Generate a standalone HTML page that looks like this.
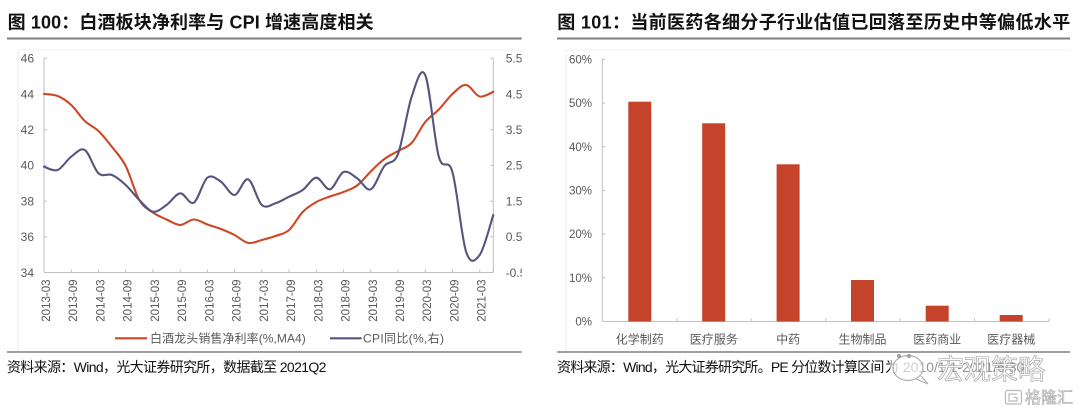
<!DOCTYPE html>
<html><head><meta charset="utf-8">
<style>
html,body{margin:0;padding:0;background:#fff;}
svg{display:block;}
text{font-family:"Liberation Sans","Noto Sans CJK SC",sans-serif;}
.tk{font-size:12px;fill:#595959;}
.tk2{font-size:11.5px;fill:#595959;}
.ttl{font-size:18px;font-weight:bold;fill:#111;}
.src{font-size:14px;fill:#111;}
</style></head>
<body>
<svg width="1080" height="416" viewBox="0 0 1080 416" xmlns="http://www.w3.org/2000/svg">
<defs>
<clipPath id="clipL"><rect x="0" y="0" width="521.7" height="416"/></clipPath>
</defs>
<rect width="1080" height="416" fill="#fff"/>

<!-- ============ LEFT PANEL ============ -->
<text class="ttl" x="7.6" y="28.5" textLength="366" lengthAdjust="spacing">图 100：白酒板块净利率与 CPI 增速高度相关</text>
<line x1="7" y1="38.5" x2="521.7" y2="38.5" stroke="#7f7f7f" stroke-width="2"/>
<line x1="18" y1="50" x2="521.7" y2="50" stroke="#f2f2f2" stroke-width="1"/>
<line x1="18" y1="50" x2="18" y2="352" stroke="#ececec" stroke-width="1"/>

<g stroke="#bfbfbf" stroke-width="1" fill="none">
  <line x1="44" y1="58.3" x2="44" y2="272.5"/>
  <line x1="493.3" y1="58.3" x2="493.3" y2="272.5"/>
  <line x1="44" y1="272.5" x2="493.3" y2="272.5"/>
  <path d="M44,58.3h3M44,94h3M44,129.7h3M44,165.4h3M44,201.1h3M44,236.8h3"/>
  <path d="M493.3,58.3h-3M493.3,94h-3M493.3,129.7h-3M493.3,165.4h-3M493.3,201.1h-3M493.3,236.8h-3"/>
  <path d="M44,272.5v-3M71.2,272.5v-3M98.5,272.5v-3M125.7,272.5v-3M152.9,272.5v-3M180.2,272.5v-3M207.4,272.5v-3M234.6,272.5v-3M261.8,272.5v-3M289.1,272.5v-3M316.3,272.5v-3M343.5,272.5v-3M370.8,272.5v-3M398,272.5v-3M425.2,272.5v-3M452.5,272.5v-3M479.7,272.5v-3M493.3,272.5v-3"/>
</g>

<g class="tk" text-anchor="end">
  <text x="34" y="62.6">46</text>
  <text x="34" y="98.3">44</text>
  <text x="34" y="134">42</text>
  <text x="34" y="169.7">40</text>
  <text x="34" y="205.4">38</text>
  <text x="34" y="241.1">36</text>
  <text x="34" y="276.8">34</text>
</g>
<g class="tk" clip-path="url(#clipL)">
  <text x="505.7" y="62.6">5.5</text>
  <text x="505.7" y="98.3">4.5</text>
  <text x="505.7" y="134">3.5</text>
  <text x="505.7" y="169.7">2.5</text>
  <text x="505.7" y="205.4">1.5</text>
  <text x="505.7" y="241.1">0.5</text>
  <text x="505.7" y="276.8">-0.5</text>
</g>

<g class="tk2" text-anchor="end" dominant-baseline="central">
  <text transform="translate(47,279.5) rotate(-90)">2013-03</text>
  <text transform="translate(74.2,279.5) rotate(-90)">2013-09</text>
  <text transform="translate(101.5,279.5) rotate(-90)">2014-03</text>
  <text transform="translate(128.7,279.5) rotate(-90)">2014-09</text>
  <text transform="translate(155.9,279.5) rotate(-90)">2015-03</text>
  <text transform="translate(183.2,279.5) rotate(-90)">2015-09</text>
  <text transform="translate(210.4,279.5) rotate(-90)">2016-03</text>
  <text transform="translate(237.6,279.5) rotate(-90)">2016-09</text>
  <text transform="translate(264.8,279.5) rotate(-90)">2017-03</text>
  <text transform="translate(292.1,279.5) rotate(-90)">2017-09</text>
  <text transform="translate(319.3,279.5) rotate(-90)">2018-03</text>
  <text transform="translate(346.5,279.5) rotate(-90)">2018-09</text>
  <text transform="translate(373.8,279.5) rotate(-90)">2019-03</text>
  <text transform="translate(401,279.5) rotate(-90)">2019-09</text>
  <text transform="translate(428.2,279.5) rotate(-90)">2020-03</text>
  <text transform="translate(455.5,279.5) rotate(-90)">2020-09</text>
  <text transform="translate(482.7,279.5) rotate(-90)">2021-03</text>
</g>

<path id="redLine" fill="none" stroke="#CD4727" stroke-width="2.1" stroke-linejoin="round" stroke-linecap="round" d=""/>
<path id="blueLine" fill="none" stroke="#55557F" stroke-width="2.1" stroke-linejoin="round" stroke-linecap="round" d=""/>

<line x1="115" y1="338.3" x2="147" y2="338.3" stroke="#CD4727" stroke-width="2.2"/>
<text class="tk" x="150" y="342.6" textLength="155.8" lengthAdjust="spacing">白酒龙头销售净利率(%,MA4)</text>
<line x1="330" y1="338.3" x2="361.6" y2="338.3" stroke="#55557F" stroke-width="2.2"/>
<text class="tk" x="363" y="342.6" textLength="81" lengthAdjust="spacing">CPI同比(%,右)</text>

<line x1="7" y1="352" x2="521.7" y2="352" stroke="#404040" stroke-width="1"/>
<text class="src" x="6.9" y="372" textLength="319.5" lengthAdjust="spacing">资料来源：Wind，光大证券研究所，数据截至 2021Q2</text>

<!-- ============ RIGHT PANEL ============ -->
<text class="ttl" x="557.2" y="28.5" textLength="513" lengthAdjust="spacing">图 101：当前医药各细分子行业估值已回落至历史中等偏低水平</text>
<line x1="557" y1="38.5" x2="1070" y2="38.5" stroke="#7f7f7f" stroke-width="2"/>
<line x1="566" y1="50" x2="1070" y2="50" stroke="#f2f2f2" stroke-width="1"/>
<line x1="566" y1="50" x2="566" y2="352" stroke="#ececec" stroke-width="1"/>

<g stroke="#bfbfbf" stroke-width="1" fill="none">
  <line x1="602.3" y1="59.3" x2="602.3" y2="321.5"/>
  <line x1="602.3" y1="321.5" x2="1049" y2="321.5"/>
  <path d="M602.3,59.3h3M602.3,103h3M602.3,146.7h3M602.3,190.4h3M602.3,234.1h3M602.3,277.8h3"/>
  <path d="M676.8,321.5v-3M751.2,321.5v-3M825.7,321.5v-3M900.1,321.5v-3M974.6,321.5v-3M1049,321.5v-3"/>
</g>

<g class="tk2" text-anchor="end">
  <text x="592" y="63.4">60%</text>
  <text x="592" y="107.1">50%</text>
  <text x="592" y="150.8">40%</text>
  <text x="592" y="194.5">30%</text>
  <text x="592" y="238.2">20%</text>
  <text x="592" y="281.9">10%</text>
  <text x="592" y="325.6">0%</text>
</g>

<g fill="#C5432A">
  <rect x="628.3" y="101.7" width="23" height="219.8"/>
  <rect x="702.2" y="123.3" width="23" height="198.2"/>
  <rect x="776.6" y="164.3" width="23" height="157.2"/>
  <rect x="851" y="280" width="23" height="41.5"/>
  <rect x="925.7" y="305.7" width="23" height="15.8"/>
  <rect x="999.7" y="315" width="23" height="6.5"/>
</g>

<g class="tk" text-anchor="middle">
  <text x="639.8" y="343.6">化学制药</text>
  <text x="713.7" y="343.6">医疗服务</text>
  <text x="788.1" y="343.6">中药</text>
  <text x="862.5" y="343.6">生物制品</text>
  <text x="937.2" y="343.6">医药商业</text>
  <text x="1011.2" y="343.6">医疗器械</text>
</g>

<line x1="557" y1="352" x2="1070" y2="352" stroke="#404040" stroke-width="1"/>
<text class="src" x="557" y="372" textLength="327.4" lengthAdjust="spacing">资料来源：Wind，光大证券研究所。PE 分位数计算区间</text>
<text class="src" x="885" y="372">为 2010/1/1-2021/6/30</text>

<!-- watermark -->
<rect x="890" y="354" width="165" height="34" fill="#fff" fill-opacity="0.55"/>
<g fill="#fff" fill-opacity="0.55" stroke="#b0b0b0" stroke-width="1.2">
  <ellipse cx="908" cy="368" rx="15" ry="12.5"/>
  <path d="M916,379 L928,384 L921,376" fill="none"/>
</g>
<circle cx="899" cy="356" r="2" fill="#a0a0a0"/>
<circle cx="909" cy="356" r="2" fill="#a0a0a0"/>
<text x="937" y="379" font-size="28" fill="#fff" fill-opacity="0.75" stroke="#9a9a9a" stroke-width="0.6" textLength="108" lengthAdjust="spacingAndGlyphs">宏观策略</text>

<rect x="1005.5" y="390.5" width="16" height="13.5" rx="2" fill="none" stroke="#b8b8b8" stroke-width="1.2"/>
<path d="M1017,394 h-8 v7 h8 v-3.5 h-3.5" fill="none" stroke="#b8b8b8" stroke-width="1.2"/>
<text x="1025" y="403" font-size="16" fill="#fff" stroke="#b0b0b0" stroke-width="0.7" textLength="48" lengthAdjust="spacingAndGlyphs">格隆汇</text>
</svg>

<script>
(function(){
  var red=[94,96,105,121,131,147,166,200,212.5,219.5,225,219.5,224.5,229,235,243,240,236,230,212,202,196.5,192,185.5,171.5,159,151,143,122,109.5,94,85,96.5,91.7];
  var blue=[166.7,170,156.7,150,173.3,175,185,200,211.7,205,193.3,202.7,177.7,181.7,195,179.3,205,203.3,196.7,190,177.7,189.3,172,178.3,189.3,166,154,97,75,156.7,172,251.7,255,215];
  function pts(a){var r=[];for(var i=0;i<a.length;i++){r.push([44+13.615*i,a[i]]);}return r;}
  function smooth(p){
    var d="M"+p[0][0].toFixed(1)+","+p[0][1];
    var t=1/6;
    for(var i=0;i<p.length-1;i++){
      var p0=p[i-1]||p[i],p1=p[i],p2=p[i+1],p3=p[i+2]||p[i+1];
      var c1x=p1[0]+(p2[0]-p0[0])*t,c1y=p1[1]+(p2[1]-p0[1])*t;
      var c2x=p2[0]-(p3[0]-p1[0])*t,c2y=p2[1]-(p3[1]-p1[1])*t;
      d+=" C"+c1x.toFixed(1)+","+c1y.toFixed(1)+" "+c2x.toFixed(1)+","+c2y.toFixed(1)+" "+p2[0].toFixed(1)+","+p2[1];
    }
    return d;
  }
  document.getElementById("redLine").setAttribute("d",smooth(pts(red)));
  document.getElementById("blueLine").setAttribute("d",smooth(pts(blue)));
})();
</script>
</body></html>
